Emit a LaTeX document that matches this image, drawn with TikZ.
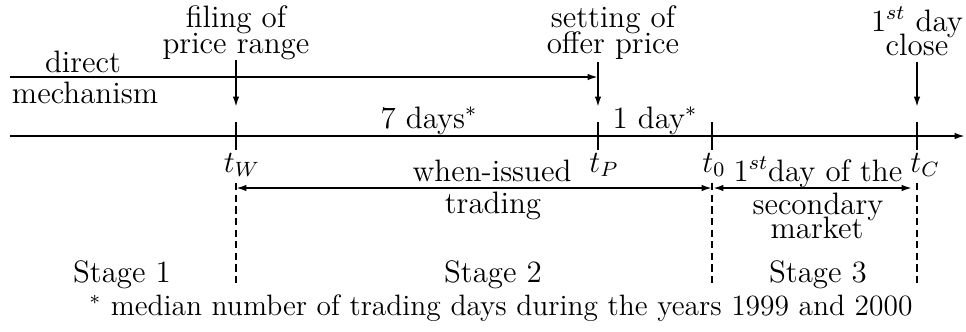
\documentclass[tikz,border=0pt]{standalone}
\usetikzlibrary{arrows.meta}

\tikzset{
  lbl/.style={anchor=base, inner sep=0pt, font=\fontsize{12}{14}\selectfont},
  tl/.style={lbl},
  axisline/.style={line width=0.7pt},
  tip/.style={-{Latex[length=4pt,width=2.5pt]}},
  twotip/.style={{Latex[length=4pt,width=2.5pt]}-{Latex[length=4pt,width=2.5pt]}},
  tick/.style={line width=0.7pt},
  stagedash/.style={line width=0.7pt, dash pattern=on 2.8pt off 1.7pt},
}

\begin{document}
\begin{tikzpicture}[x=0.387pt, y=-0.387pt]
  \useasboundingbox (0,0) rectangle (966,331);

  % event times on the time axis
  \coordinate (axL) at (10,136);
  \coordinate (axR) at (965,136);
  \foreach \n/\x in {W/236, P/598, Z/712, C/917} {
    \coordinate (tick\n top) at (\x,122);
    \coordinate (tick\n bot) at (\x,150);
  }

  % time axis and ticks
  \draw[axisline, tip] (axL) -- (axR);
  \foreach \n in {W,P,Z,C} \draw[tick] (tick\n top) -- (tick\n bot);

  % direct mechanism line
  \coordinate (dirL) at (10,77);
  \coordinate (dirR) at (598,77);
  \draw[axisline, tip] (dirL) -- (dirR);

  % event arrows
  \coordinate (aWtop) at (236,60);  \coordinate (aWbot) at (236,107);
  \coordinate (aPtop) at (598,62);  \coordinate (aPbot) at (598,107);
  \coordinate (aCtop) at (917,62);  \coordinate (aCbot) at (917,107);
  \draw[axisline, tip] (aWtop) -- (aWbot);
  \draw[axisline, tip] (aPtop) -- (aPbot);
  \draw[axisline, tip] (aCtop) -- (aCbot);

  % stage separators
  \foreach \n/\x in {W/236, Z/712, C/917} {
    \coordinate (sep\n top) at (\x,183);
    \coordinate (sep\n bot) at (\x,284);
    \draw[stagedash] (sep\n top) -- (sep\n bot);
  }

  % trading spans
  \coordinate (wiL) at (236,188);
  \coordinate (wiR) at (712,188);
  \coordinate (sdL) at (713,188);
  \coordinate (sdR) at (912,188);
  \draw[axisline, twotip] (wiL) -- (wiR);
  \draw[axisline, twotip] (sdL) -- (sdR);

  % event labels
  \node[lbl] (fil1) at (236,27) {filing of};
  \node[lbl] (fil2) at (236,53) {price range};
  \node[lbl] (set1) at (613,27) {setting of};
  \node[lbl] (set2) at (613,53) {offer price};
  \node[lbl] (cls1) at (917,31) {1$^{st}$ day};
  \node[lbl] (cls2) at (917,55) {close};
  \node[lbl] (dir1) at (83,72) {direct};
  \node[lbl] (dir2) at (85,103) {mechanism};

  % durations
  \node[lbl] (dur1) at (429,128) {7 days$^*$};
  \node[lbl] (dur2) at (655,128) {1 day$^*$};

  % time labels
  \node[tl] (tW) at (242,172) {$t_W$};
  \node[tl] (tP) at (604,172) {$t_P$};
  \node[tl] (t0) at (714,172) {$t_0$};
  \node[tl] (tC) at (925,172) {$t_C$};

  % span labels
  \node[lbl] (wi1) at (492,181) {when-issued};
  \node[lbl] (wi2) at (493,213) {trading};
  \node[lbl] (sd1) at (818,181) {1$^{st}$day of the};
  \node[lbl] (sd2) at (818,214) {secondary};
  \node[lbl] (sd3) at (817,238) {market};

  % stages
  \node[lbl] (st1) at (122,282) {Stage 1};
  \node[lbl] (st2) at (493,282) {Stage 2};
  \node[lbl] (st3) at (818,282) {Stage 3};

  % footnote
  \node[lbl, scale=0.95] (note) at (501,315) {$^*$ median number of trading days during the years 1999 and 2000};
\end{tikzpicture}
\end{document}
